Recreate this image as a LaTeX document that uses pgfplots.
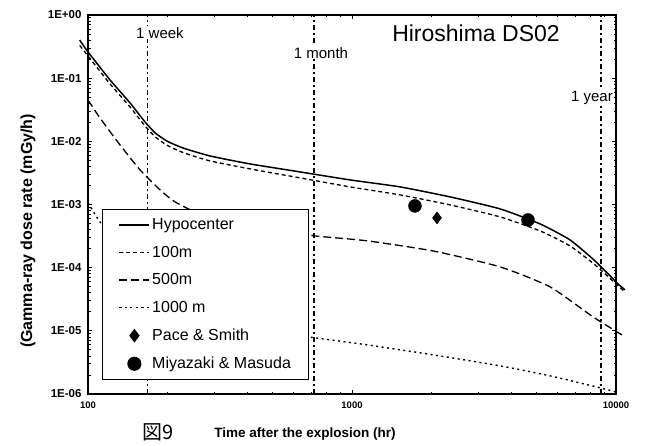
\documentclass[border=0pt]{standalone}
\usepackage{fontspec}
\setmainfont{Liberation Sans}
\newfontfamily\cjk{Noto Sans CJK JP}
\usepackage{pgfplots}
\pgfplotsset{compat=1.18}
\begin{document}
\begin{tikzpicture}[x=1pt,y=1pt]
\useasboundingbox (0,0) rectangle (646,446);
\begin{axis}[
 at={(88pt,52pt)}, anchor=south west,
 width=528pt, height=379pt, scale only axis,
 xmode=log, ymode=log,
 xmin=100, xmax=10000, ymin=1e-6, ymax=1,
 clip=false,
 xtick={100,1000,10000}, xticklabels={100,1000,10000},
 ytick={1e-6,1e-5,1e-4,1e-3,1e-2,1e-1,1},
 yticklabels={1E-06,1E-05,1E-04,1E-03,1E-02,1E-01,1E+00},
 yticklabel style={font=\fontsize{11.5}{12}\selectfont\bfseries, xshift=-3pt},
 xticklabel style={font=\fontsize{9.5}{10}\selectfont\bfseries, yshift=-4pt},
 axis line style={line width=1.2pt},
 major tick length=4pt, minor tick length=2.5pt,
 every tick/.style={black, line width=0.8pt},
 legend style={at={(0.0265,0.488)}, anchor=north west, draw=black, line width=1.1pt,
   font=\fontsize{16}{18}\selectfont, row sep=11pt, inner xsep=16pt, inner ysep=7pt,
   cells={anchor=west}},
 legend image code/.code={\draw[mark repeat=2,mark phase=2,#1] plot coordinates {(0cm,0cm) (0.53cm,0cm) (1.06cm,0cm)};},
]
% vertical reference lines
\addplot[forget plot, black, line width=1.8pt, dash pattern=on 5pt off 3pt on 2pt off 3pt] coordinates {(168,1e-6) (168,1)};
\addplot[forget plot, black, line width=1.8pt, dash pattern=on 5pt off 3pt on 2pt off 3pt] coordinates {(720,1e-6) (720,1)};
\addplot[forget plot, black, line width=1.8pt, dash pattern=on 5pt off 3pt on 2pt off 3pt] coordinates {(8760,1e-6) (8760,1)};

\addplot[black, line width=1.5pt, smooth, tension=0.35] coordinates {
(93,0.40) (100,0.26) (121.2,0.0937) (144.3,0.0405) (164.4,0.0203) (180,0.0135) (200,0.0100) (230,0.0078) (289.8,0.00587) (410.9,0.00439) (635.3,0.00328) (982.7,0.00245) (1520,0.00190) (2350,0.00132) (3636,0.000852) (5154,0.000493) (6694,0.000275) (8326,0.000128) (10088,5.75e-5) (10817,4.45e-5)};
\addlegendentry{Hypocenter}

\addplot[black, line width=1.3pt, dash pattern=on 4pt off 3pt, smooth, tension=0.35] coordinates {
(93,0.33) (100,0.2245) (121.2,0.0810) (144.3,0.0350) (164.4,0.01753) (180,0.0117) (200,0.0086) (230,0.0066) (289.8,0.00490) (410.9,0.00366) (635.3,0.00264) (982.7,0.00190) (1520,0.001419) (2350,0.000986) (3636,0.000637) (5154,0.000382) (6694,0.000221) (8326,0.0001107) (10088,5.34e-5) (10817,4.14e-5)};
\addlegendentry{100m}

\addplot[black, line width=1.3pt, dash pattern=on 8pt off 4pt, smooth, tension=0.35] coordinates {
(100,0.0452) (111,0.02346) (132.2,0.00877) (157.4,0.00353) (187.5,0.001703) (213.6,0.0011) (265.6,0.00071) (376.5,0.000493) (533.7,0.000382) (724.1,0.000318) (1140,0.000266) (2027,0.000184) (3636,0.000103) (5623,4.97e-5) (8182,1.665e-5) (10817,8.04e-6)};
\addlegendentry{500m}

\addplot[black, line width=1.4pt, dash pattern=on 2pt off 3.5pt, smooth, tension=0.35] coordinates {
(100,0.00106) (111,0.00053) (132.2,0.000191) (157.4,7.69e-5) (213.6,2.58e-5) (376.5,1.245e-5) (533.7,9.3e-6) (724.1,7.75e-6) (1140,6.0e-6) (2027,4.17e-6) (3636,2.79e-6) (5623,1.94e-6) (8698,1.253e-6) (9913,1.084e-6)};
\addlegendentry{1000 m}

\addplot[only marks, mark=diamond*, mark size=6pt, black] coordinates {(2099,6.14e-4)};
\addlegendentry{Pace \& Smith}

\addplot[only marks, mark=*, mark size=6.5pt, black] coordinates {(1732,9.5e-4) (4642,5.7e-4)};
\addlegendentry{Miyazaki \& Masuda}
\end{axis}
\node[fill=white, inner sep=1pt, font=\fontsize{15}{17}\selectfont] at (160,413) {1 week};
\node[fill=white, inner sep=1pt, font=\fontsize{15}{17}\selectfont] at (321,393) {1 month};
\node[fill=white, inner sep=1pt, font=\fontsize{15}{17}\selectfont] at (592,348) {1 year};
\node[font=\fontsize{23}{25}\selectfont] at (476,413) {Hiroshima DS02};
\node[rotate=90, font=\fontsize{16}{18}\selectfont\bfseries] at (28,215) {(Gamma-ray dose rate (mGy/h)};
\node[font=\fontsize{13.5}{15}\selectfont\bfseries] at (305,12) {Time after the explosion (hr)};
\node[font=\fontsize{20}{22}\selectfont\cjk] at (158,14) {図9};
\end{tikzpicture}
\end{document}
